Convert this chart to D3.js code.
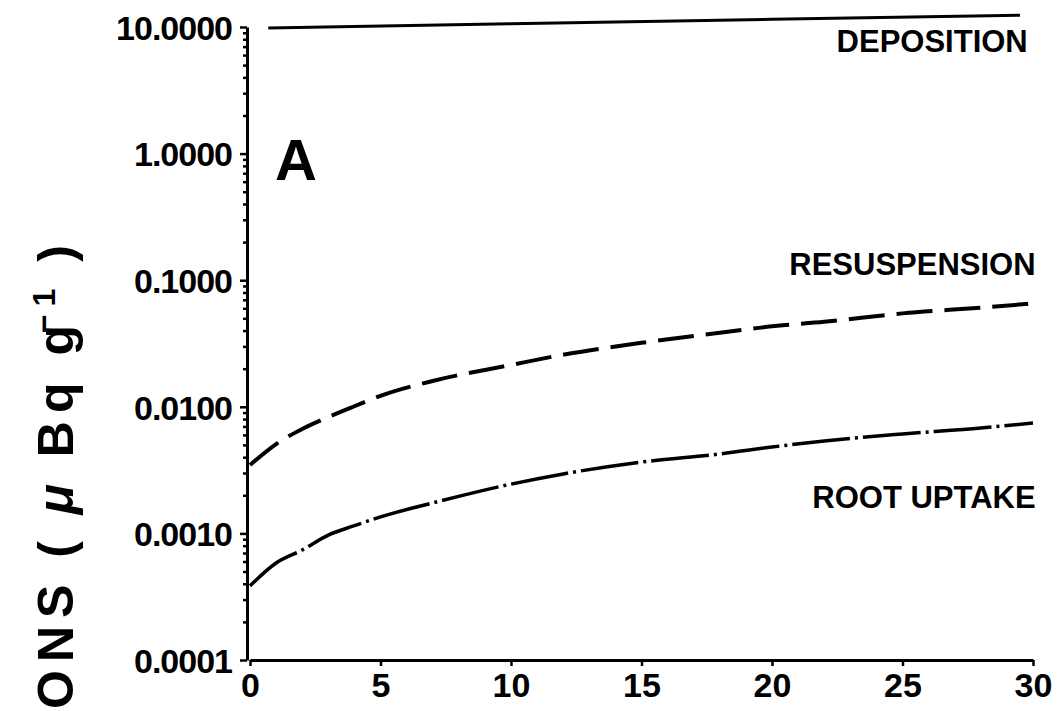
<!DOCTYPE html>
<html>
<head>
<meta charset="utf-8">
<script src="https://cdn.jsdelivr.net/npm/d3@7"></script>
<style>
  body { margin: 0; background: #fff; }
  svg { display: block; font-family: "Liberation Sans", Arial, sans-serif; }
  .axis path, .axis line { stroke: #000; }
  .axis text { fill: #000; font-weight: bold; }
</style>
</head>
<body>
<div data-viz="wrapper"></div>
<script>
// days after deposition
const days = [0, 1, 2, 3, 4, 5, 7, 10, 12, 15, 18, 20, 22, 25, 28, 30]
// concentrations in µBq/g
const resuspension = [0.00347, 0.00508, 0.00668, 0.0083, 0.0101, 0.0122, 0.016, 0.0214,
  0.0258, 0.032, 0.0384, 0.0432, 0.0469, 0.0547, 0.0607, 0.0655]
const rootUptake = [0.000385, 0.000583, 0.00074, 0.00097, 0.00115, 0.00135, 0.00174, 0.00245,
  0.00295, 0.00366, 0.00424, 0.00481, 0.00537, 0.0061, 0.0068, 0.00745]
const depositionDays = [0.7, 10, 20, 29.5]
const deposition = [9.8, 10.6, 11.5, 12.4]

const yTicks = [0.0001, 0.001, 0.01, 0.1, 1, 10]
const xTicks = [0, 5, 10, 15, 20, 25, 30]
const seriesLabels = ["DEPOSITION", "RESUSPENSION", "ROOT UPTAKE"]

const wrapper = d3.select("[data-viz='wrapper']")

const dimensions = {
  width: 1061,
  height: 711,
  margin: { top: 27, right: 28, bottom: 51, left: 250 }
}
dimensions.boundedWidth = dimensions.width - dimensions.margin.left - dimensions.margin.right
dimensions.boundedHeight = dimensions.height - dimensions.margin.top - dimensions.margin.bottom

const xScale = d3.scaleLinear()
  .domain([0, 30])
  .range([0, dimensions.boundedWidth])
const yScale = d3.scaleLog()
  .domain([0.0001, 10])
  .range([dimensions.boundedHeight, 0])

const svg = wrapper.append("svg")
  .attr("width", dimensions.width)
  .attr("height", dimensions.height)

const bounds = svg.append("g")
  .attr("transform", `translate(${dimensions.margin.left},${dimensions.margin.top})`)

// minor ticks on the log axis
const minorTicks = []
yTicks.slice(0, -1).forEach(t => {
  for (let k = 2; k <= 9; k++) minorTicks.push(t * k)
})

bounds.append("g")
  .attr("class", "axis")
  .attr("transform", "translate(-3,0)")
  .call(d3.axisLeft(yScale).tickValues(minorTicks).tickSize(4).tickSizeOuter(0).tickFormat(""))
  .call(g => g.select(".domain").remove())
  .selectAll("line").attr("stroke-width", 2.5)

const yAxis = bounds.append("g")
  .attr("class", "axis")
  .attr("transform", "translate(-3,0)")
  .call(d3.axisLeft(yScale).tickValues(yTicks).tickSize(7).tickSizeOuter(0)
    .tickFormat(d3.format(".4f")))
yAxis.select(".domain").attr("stroke-width", 3)
yAxis.selectAll(".tick line").attr("stroke-width", 2.5)
yAxis.selectAll(".tick text")
  .attr("x", -15)
  .attr("dy", "0.36em")
  .style("font-size", "34px")
  .style("letter-spacing", "-1px")

const xAxis = bounds.append("g")
  .attr("class", "axis")
  .attr("transform", `translate(0,${dimensions.boundedHeight})`)
  .call(d3.axisBottom(xScale).tickValues(xTicks).tickSize(6).tickSizeOuter(0))
xAxis.select(".domain").attr("stroke-width", 3)
xAxis.selectAll(".tick line").attr("stroke-width", 2.5)
xAxis.selectAll(".tick text")
  .attr("y", 13)
  .attr("dy", "0.71em")
  .style("font-size", "34px")

// series lines
const line = d3.line()
  .x(d => xScale(d[0]))
  .y(d => yScale(d[1]))
  .curve(d3.curveMonotoneX)

bounds.append("path")
  .attr("d", line(depositionDays.map((d, i) => [d, deposition[i]])))
  .attr("fill", "none")
  .attr("stroke", "#000")
  .attr("stroke-width", 3)

bounds.append("path")
  .attr("d", line(days.map((d, i) => [d, resuspension[i]])))
  .attr("fill", "none")
  .attr("stroke", "#000")
  .attr("stroke-width", 4)
  .attr("stroke-dasharray", "36,12")

bounds.append("path")
  .attr("d", line(days.map((d, i) => [d, rootUptake[i]])))
  .attr("fill", "none")
  .attr("stroke", "#000")
  .attr("stroke-width", 3.5)
  .attr("stroke-dasharray", "58,5,3,5")

// series labels
const labelPos = [
  { x: 29.8, y: 6.35 },
  { x: 30.1, y: 0.11 },
  { x: 30.1, y: 0.0016 }
]
bounds.selectAll(".series-label")
  .data(seriesLabels)
  .join("text")
    .attr("class", "series-label")
    .attr("x", (d, i) => xScale(labelPos[i].x))
    .attr("y", (d, i) => yScale(labelPos[i].y))
    .attr("text-anchor", "end")
    .style("font-size", "31px")
    .style("font-weight", "bold")
    .text(d => d)

bounds.append("text")
  .attr("x", xScale(0.96))
  .attr("y", yScale(0.62))
  .style("font-size", "58px")
  .style("font-weight", "bold")
  .text("A")

// y axis title: only the tail of it is visible in the reference
const yTitle = svg.append("text")
  .attr("transform", "translate(73,709) rotate(-90)")
  .style("font-size", "50px")
  .style("font-weight", "bold")
  .style("letter-spacing", "8px")
  .style("word-spacing", "-3px")
yTitle.append("tspan").text("ONS ( ")
yTitle.append("tspan").style("font-style", "italic").text("μ")
yTitle.append("tspan").text(" Bq g")
yTitle.append("tspan").attr("dx", -16).attr("dy", "-0.55em").style("font-size", "32px").text("−1")
yTitle.append("tspan").attr("dy", "0.35em").text(" )")
</script>
</body>
</html>
